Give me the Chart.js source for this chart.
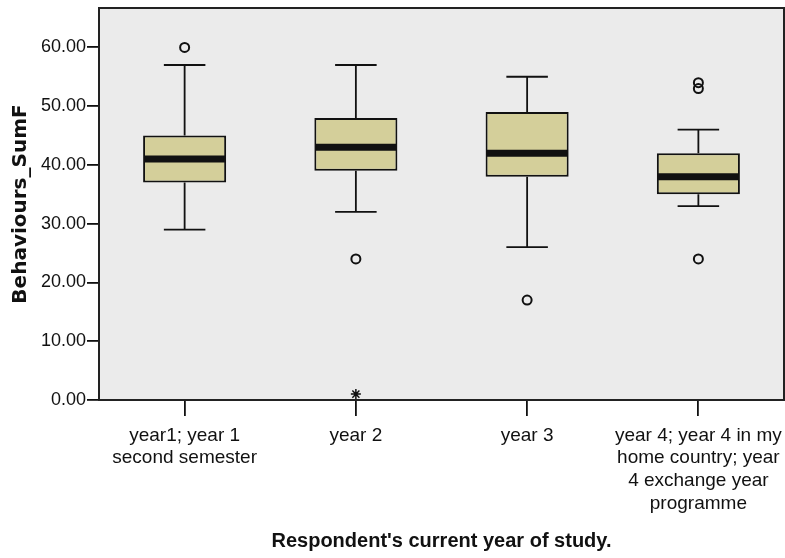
<!DOCTYPE html>
<html>
<head>
<meta charset="utf-8">
<script src="https://cdn.jsdelivr.net/npm/chart.js@4.4.1/dist/chart.umd.min.js"></script>
<style>
  html, body { margin: 0; padding: 0; background: #fff; }
  #wrap { width: 785px; height: 558px; }
</style>
</head>
<body>
<div id="wrap"><canvas id="chart" width="785" height="558"></canvas></div>
<script>
// Box plot values
const groups = [
  ['year1; year 1', 'second semester'],
  'year 2',
  'year 3',
  ['year 4; year 4 in my', 'home country; year', '4 exchange year', 'programme']
];
const whiskerLow  = [29, 32, 26, 33];
const q1          = [37, 39, 38, 35];
const median      = [41, 43, 42, 38];
const q3          = [45, 48, 49, 42];
const whiskerHigh = [57, 57, 55, 46];
const outliers    = [[60], [24], [17], [54, 53, 24]];
const extremes    = [[], [1], [], []];
const yTicks      = [0, 10, 20, 30, 40, 50, 60];

const INK = '#111';
const sans = "'Liberation Sans', Arial, sans-serif";

// one point dataset per outlier slot (category axis needs plain arrays)
const slotCount = arr => Math.max(...arr.map(a => a.length));
const pointSets = [];
for (let k = 0; k < slotCount(outliers); k++) {
  pointSets.push({
    type: 'line', showLine: false,
    data: outliers.map(a => a[k] ?? null),
    pointStyle: 'circle', pointRadius: 4.5, pointBorderWidth: 2,
    pointBorderColor: INK, pointBackgroundColor: 'rgba(0,0,0,0)'
  });
}
for (let k = 0; k < slotCount(extremes); k++) {
  pointSets.push({
    type: 'line', showLine: false,
    data: extremes.map(a => a[k] ?? null),
    pointStyle: 'star', pointRadius: 5, pointBorderWidth: 1.5,
    pointBorderColor: INK, pointBackgroundColor: INK
  });
}

const boxParts = {
  id: 'boxParts',
  beforeDraw(chart) {
    const { ctx, chartArea: a } = chart;
    ctx.save();
    ctx.fillStyle = '#ebebeb';
    ctx.fillRect(a.left, a.top, a.right - a.left, a.bottom - a.top);
    ctx.restore();
  },
  afterDatasetsDraw(chart) {
    const { ctx, scales: { y } } = chart;
    const bars = chart.getDatasetMeta(0).data;
    ctx.save();
    ctx.strokeStyle = INK;
    bars.forEach((bar, i) => {
      const x = bar.x, half = bar.width / 2, cap = bar.width / 4;
      const yl = y.getPixelForValue(whiskerLow[i]);
      const yh = y.getPixelForValue(whiskerHigh[i]);
      const y1 = y.getPixelForValue(q1[i]);
      const y3 = y.getPixelForValue(q3[i]);
      ctx.lineWidth = 1.8;
      ctx.beginPath();
      ctx.moveTo(x, y1); ctx.lineTo(x, yl);
      ctx.moveTo(x, y3); ctx.lineTo(x, yh);
      ctx.moveTo(x - cap, yl); ctx.lineTo(x + cap, yl);
      ctx.moveTo(x - cap, yh); ctx.lineTo(x + cap, yh);
      ctx.stroke();
      // median
      const ym = y.getPixelForValue(median[i]);
      ctx.lineWidth = 7;
      ctx.beginPath();
      ctx.moveTo(x - half + 1, ym); ctx.lineTo(x + half - 1, ym);
      ctx.stroke();
    });
    ctx.restore();
  },
  afterDraw(chart) {
    const { ctx, chartArea: a } = chart;
    ctx.save();
    ctx.strokeStyle = '#222';
    ctx.lineWidth = 2;
    ctx.strokeRect(a.left, a.top, a.right - a.left, a.bottom - a.top);
    ctx.restore();
  }
};

new Chart(document.getElementById('chart').getContext('2d'), {
  type: 'bar',
  data: {
    labels: groups,
    datasets: [
      {
        data: q1.map((v, i) => [v, q3[i]]),
        backgroundColor: '#d4cf9a',
        borderColor: INK,
        borderWidth: 2,
        borderSkipped: false,
        barPercentage: 0.485,
        categoryPercentage: 1
      },
      ...pointSets
    ]
  },
  options: {
    responsive: false,
    animation: false,
    layout: { autoPadding: false, padding: { top: 8, right: 1, left: 0, bottom: 0 } },
    plugins: { legend: { display: false }, tooltip: { enabled: false } },
    scales: {
      x: {
        offset: true,
        grid: { display: true, drawOnChartArea: false, tickLength: 16, color: INK, lineWidth: 1.8, offset: false },
        border: { display: false },
        ticks: { color: INK, padding: 8, maxRotation: 0, autoSkip: false,
                 font: { family: sans, size: 19, lineHeight: 1.2 } },
        title: { display: true, text: "Respondent's current year of study.", color: INK,
                 padding: { top: 0, bottom: 5 },
                 font: { family: sans, size: 20, weight: 'bold' } },
        afterFit(s) { s.height = 158; s.paddingLeft = 0; s.paddingRight = 0; }
      },
      y: {
        min: 0, max: 66.7,
        afterBuildTicks(s) { s.ticks = yTicks.map(v => ({ value: v })); },
        grid: { display: true, drawOnChartArea: false, tickLength: 12, color: INK, lineWidth: 1.8 },
        border: { display: false },
        ticks: { color: INK, padding: 1, font: { family: sans, size: 18 },
                 callback: v => Number(v).toFixed(2) },
        title: { display: true, text: 'Behaviours_SumF', color: INK,
                 padding: { top: 9, bottom: 0 },
                 font: { family: "'DejaVu Sans', sans-serif", size: 20, weight: 'bold' } },
        afterFit(s) { s.width = 99; s.paddingTop = 0; s.paddingBottom = 0; }
      }
    }
  },
  plugins: [boxParts]
});
</script>
</body>
</html>
